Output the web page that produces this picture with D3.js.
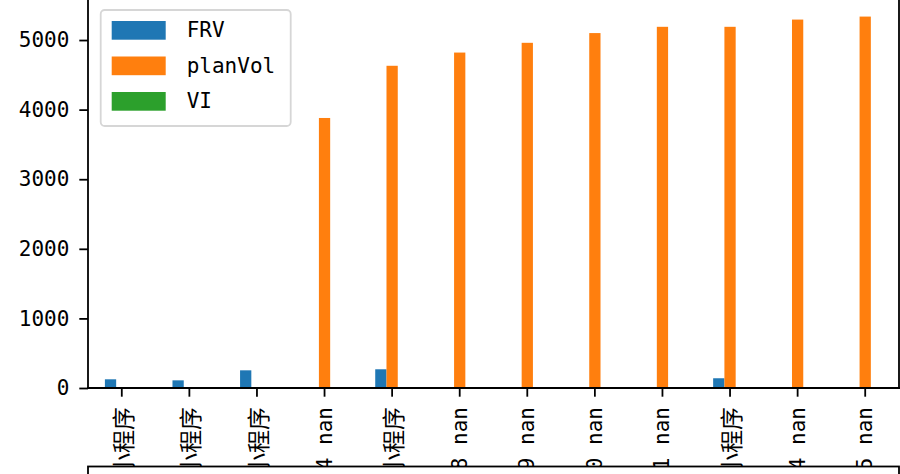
<!DOCTYPE html>
<html><head><meta charset="utf-8">
<script src="https://cdn.jsdelivr.net/npm/d3@7"></script>
<style>body{margin:0;background:#fff}svg{display:block}</style>
</head><body><svg id="c" width="900" height="474"></svg>
<script>
const categories = ["微信小程序","微信小程序","微信小程序","14 nan","微信小程序","18 nan","19 nan","20 nan","21 nan","微信小程序","24 nan","25 nan"];
const seriesNames = ["FRV","planVol","VI"];
const FRV =     [125, 110, 254, 0, 269, 0, 0, 0, 0, 140, 0, 0];
const planVol = [0, 0, 0, 3880, 4630, 4820, 4960, 5100, 5190, 5190, 5294, 5337];
const VI =      [0, 0, 0, 0, 0, 0, 0, 0, 0, 0, 0, 0];
const yTicks = [0, 1000, 2000, 3000, 4000, 5000];
const colors = ["#1f77b4","#ff7f0e","#2ca02c"];
const values = [FRV, planVol, VI];

const font = "'DejaVu Sans Mono','Noto Sans CJK SC',sans-serif";
const cjkFont = "'Noto Sans CJK SC',sans-serif";
const svg = d3.select("#c");
const L = 88, R = 899, B = 388, T = -2;
const x = d3.scaleBand().domain(d3.range(categories.length)).range([L, R]);
const xs = d3.scaleBand().domain(seriesNames).range([0.25*x.bandwidth(), 0.75*x.bandwidth()]);
const y = d3.scaleLinear().domain([0, 5604]).range([B, T]);

// bars
seriesNames.forEach((s, si) => {
  svg.append("g").selectAll("rect").data(values[si]).join("rect")
    .attr("x", (d, i) => x(i) + xs(s))
    .attr("width", xs.bandwidth())
    .attr("y", d => y(d))
    .attr("height", d => B - y(d))
    .attr("fill", colors[si]);
});

// y axis
const ya = svg.append("g").attr("transform", `translate(${L},0)`)
  .call(d3.axisLeft(y).tickValues(yTicks).tickSize(8.7).tickPadding(10).tickFormat(d3.format("d")));
ya.select(".domain").remove();
ya.selectAll("line").attr("stroke", "#000").attr("stroke-width", 1.8);
ya.selectAll("text").attr("font-family", font).attr("font-size", 21).attr("fill", "#000");

// x axis
const isCJK = s => /[\u4e00-\u9fff]/.test(s);
const xa = svg.append("g").attr("transform", `translate(0,${B})`)
  .call(d3.axisBottom(x).tickSize(8.7).tickPadding(0).tickFormat(i => categories[i]));
xa.select(".domain").remove();
xa.selectAll("line").attr("stroke", "#000").attr("stroke-width", 1.8);
xa.selectAll("text")
  .attr("font-family", i => isCJK(categories[i]) ? cjkFont : font)
  .attr("font-size", i => isCJK(categories[i]) ? 23 : 21)
  .attr("fill", "#000")
  .attr("text-anchor", "end").attr("dy", null).attr("y", 0)
  .attr("dominant-baseline", "central")
  .attr("transform", "translate(0,19) rotate(-90)");

// spines
svg.append("line").attr("x1", L).attr("x2", L).attr("y1", T).attr("y2", B + 0.9).attr("stroke", "#000").attr("stroke-width", 1.8);
svg.append("line").attr("x1", R).attr("x2", R).attr("y1", T).attr("y2", B + 0.9).attr("stroke", "#000").attr("stroke-width", 1.8);
svg.append("line").attr("x1", L - 0.9).attr("x2", R + 0.9).attr("y1", B).attr("y2", B).attr("stroke", "#000").attr("stroke-width", 1.8);

// lower axes box (covers overflowing labels)
svg.append("rect").attr("x", L).attr("y", 466.5).attr("width", R - L).attr("height", 20)
  .attr("fill", "#fff").attr("stroke", "#000").attr("stroke-width", 1.8);

// legend
const lg = svg.append("g");
lg.append("rect").attr("x", 100.7).attr("y", 10).attr("width", 190).attr("height", 116)
  .attr("rx", 4).attr("fill", "#fff").attr("fill-opacity", 0.8).attr("stroke", "#d6d6d6").attr("stroke-width", 1.8);
seriesNames.forEach((s, i) => {
  const cy = 30.3 + i * 35.5;
  lg.append("rect").attr("x", 111.7).attr("y", cy - 9.3).attr("width", 54).attr("height", 18.7).attr("fill", colors[i]);
  lg.append("text").attr("x", 186.7).attr("y", cy).attr("dominant-baseline", "central")
    .attr("font-family", font).attr("font-size", 21).attr("fill", "#000").text(s);
});
</script></body></html>
